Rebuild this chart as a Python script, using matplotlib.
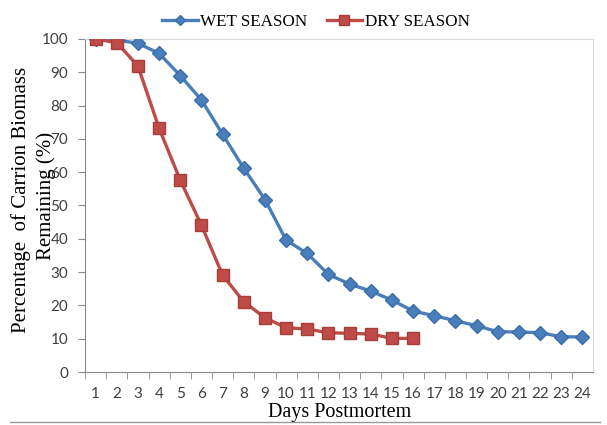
import matplotlib.pyplot as plt
from matplotlib.lines import Line2D

days = list(range(1, 25))
wet = [100, 99.7, 98.7, 95.7, 89.0, 81.7, 71.4, 61.2, 51.8, 39.6, 35.6, 29.3,
       26.4, 24.3, 21.6, 18.3, 16.9, 15.4, 13.9, 12.1, 12.0, 11.8, 10.6, 10.5]
dry_days = list(range(1, 17))
dry = [100, 98.9, 91.9, 73.2, 57.6, 44.1, 29.1, 21.1, 16.3, 13.3, 12.9, 11.8,
       11.6, 11.4, 10.1, 10.1]

serif = "Liberation Serif"
tick_font = "Lato"

fig = plt.figure(figsize=(6.07, 4.25), dpi=100)
ax = fig.add_axes([85 / 607, 1 - 372 / 425, (593 - 85) / 607, (372 - 39) / 425])

ax.plot(days, wet, color="#4a7ebb", lw=2.4, marker="D", ms=7,
        mec="#3a6eab", label="WET SEASON", zorder=3)
ax.plot(dry_days, dry, color="#be4b48", lw=2.4, marker="s", ms=8.5,
        mec="#a83c39", label="DRY SEASON", zorder=4)

ax.set_xlim(0.5, 24.5)
ax.set_ylim(0, 100)
ax.set_yticks(range(0, 101, 10))
ax.set_xticks(days)
ax.set_xticks([d + 0.5 for d in range(0, 24)], minor=True)
ax.tick_params(axis="x", which="major", length=0, pad=11)
ax.tick_params(axis="x", which="minor", length=5, color="#888888", direction="out")
ax.tick_params(axis="y", length=5, color="#888888", pad=7)
for lab in ax.get_xticklabels() + ax.get_yticklabels():
    lab.set_fontfamily(tick_font)
    lab.set_fontsize(11)
    lab.set_color("#404040")

for side in ["left", "bottom"]:
    ax.spines[side].set_color("#888888")
for side in ["top", "right"]:
    ax.spines[side].set_color("#d9d9d9")

fig.text(340 / 607, 1 - 412 / 425, "Days Postmortem", ha="center", va="center",
         fontfamily=serif, fontsize=14.5)
fig.text(21 / 607, 1 - 200 / 425, "Percentage  of Carrion Biomass",
         rotation=90, ha="center", va="center", fontfamily=serif, fontsize=15)
fig.text(46 / 607, 1 - 196 / 425, "Remaining (%)",
         rotation=90, ha="center", va="center", fontfamily=serif, fontsize=15)

fig.legend(loc="center", bbox_to_anchor=(316 / 607, 1 - 22 / 425), ncol=2,
           frameon=False, prop={"family": serif, "size": 12.3}, handlelength=2.1,
           columnspacing=1.1, handletextpad=0.15, markerscale=0.8)

fig.add_artist(Line2D([10 / 607, 600 / 607], [1 - 422 / 425] * 2,
                      transform=fig.transFigure, color="#999999", lw=1))

fig.savefig("out.png", dpi=100)
